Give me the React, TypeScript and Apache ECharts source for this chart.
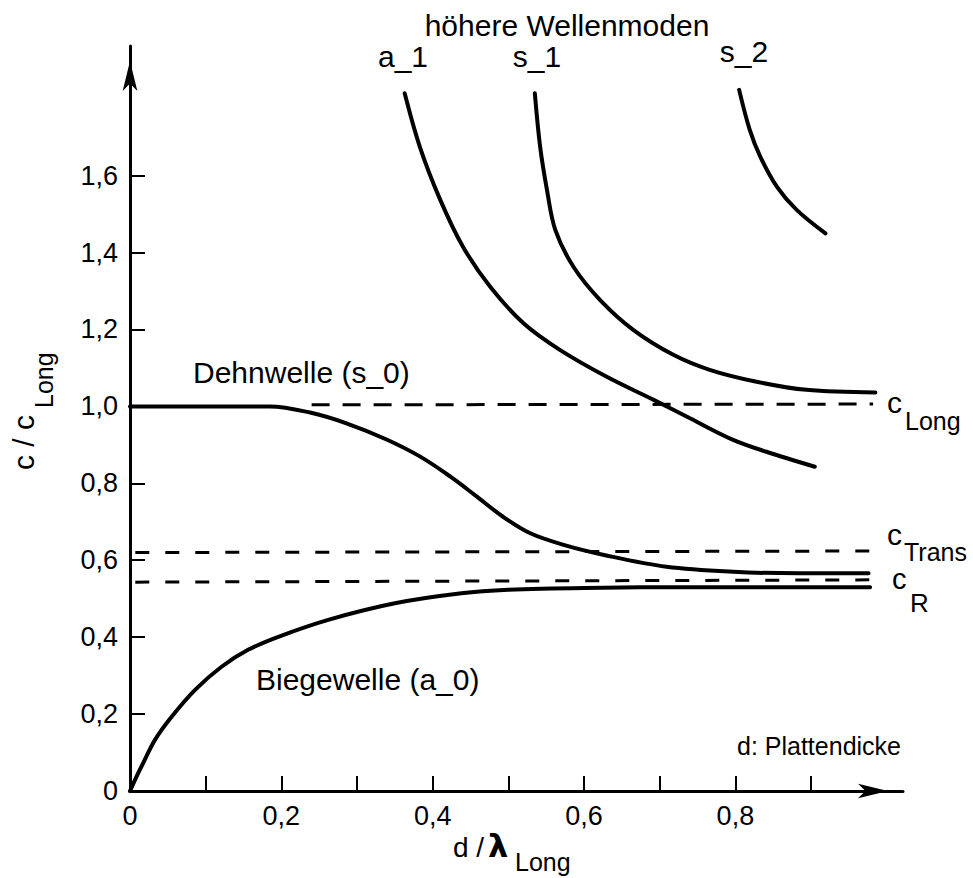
import React, { useEffect, useRef } from "react";
import * as echarts from "echarts";

// ---- data (x = d/λLong, y = c/cLong) ----
const xTickValues = [0.1, 0.2, 0.3, 0.4, 0.5, 0.6, 0.7, 0.8, 0.9];
const xLabelValues = [0, 0.2, 0.4, 0.6, 0.8];
const yTickValues = [0.2, 0.4, 0.6, 0.8, 1.0, 1.2, 1.4, 1.6];
const yLabelValues = [0, 0.2, 0.4, 0.6, 0.8, 1.0, 1.2, 1.4, 1.6];

const dehnwelleS0 = [
  [0, 1.0], [0.1, 1.0], [0.185, 1.0], [0.238, 0.984], [0.286, 0.956],
  [0.339, 0.914], [0.383, 0.87], [0.423, 0.818], [0.458, 0.766],
  [0.493, 0.713], [0.529, 0.67], [0.573, 0.64], [0.628, 0.613],
  [0.709, 0.583], [0.797, 0.57], [0.885, 0.566], [0.976, 0.566],
];
const biegewelleA0 = [
  [0, 0], [0.008, 0.035], [0.018, 0.075], [0.033, 0.133], [0.055, 0.193],
  [0.086, 0.263], [0.121, 0.323], [0.156, 0.367], [0.196, 0.401],
  [0.262, 0.445], [0.35, 0.488], [0.438, 0.514], [0.5, 0.523],
  [0.6, 0.528], [0.75, 0.53], [0.978, 0.53],
];
const modeA1 = [
  [0.363, 1.814], [0.383, 1.675], [0.41, 1.537], [0.44, 1.415],
  [0.476, 1.311], [0.52, 1.216], [0.568, 1.147], [0.63, 1.077],
  [0.692, 1.017], [0.74, 0.969], [0.797, 0.913], [0.841, 0.882],
  [0.905, 0.843],
];
const modeS1 = [
  [0.535, 1.814], [0.542, 1.675], [0.551, 1.563], [0.562, 1.459],
  [0.586, 1.363], [0.621, 1.277], [0.665, 1.199], [0.718, 1.134],
  [0.766, 1.095], [0.828, 1.064], [0.894, 1.043], [0.985, 1.036],
];
const modeS2 = [
  [0.805, 1.823], [0.819, 1.719], [0.833, 1.649], [0.855, 1.571],
  [0.881, 1.511], [0.919, 1.45],
];
const cLongLine = [[0.24, 1.004], [0.982, 1.006]];
const cTransLine = [[0.007, 0.62], [0.982, 0.624]];
const cRLine = [[0.007, 0.543], [0.985, 0.549]];

const FONT = "'Liberation Sans', Arial, Helvetica, sans-serif";

const fmt = (v: number) => (v === 0 ? "0" : v.toFixed(1).replace(".", ","));

function txt(
  text: string,
  x: number,
  y: number,
  size: number,
  align: string = "left",
  extra: any = {}
) {
  return {
    type: "text",
    x,
    y,
    rotation: extra.rotation || 0,
    silent: true,
    style: {
      text,
      fontSize: size,
      fontFamily: extra.fontFamily || FONT,
      fontWeight: extra.fontWeight || "normal",
      fill: "#000",
      align,
      textAlign: align,
      verticalAlign: "middle",
      textVerticalAlign: "middle",
    },
  };
}

export default function App() {
  const ref = useRef<HTMLDivElement>(null);

  useEffect(() => {
    if (!ref.current) return;
    const chart = echarts.init(ref.current, undefined, { renderer: "svg" });

    const solid = (name: string, data: number[][]) => ({
      name,
      type: "line",
      data,
      smooth: 0.35,
      symbol: "none",
      silent: true,
      lineStyle: { color: "#000", width: 4, cap: "round" },
    });
    const dashed = (name: string, data: number[][], dash: number[]) => ({
      name,
      type: "line",
      data,
      symbol: "none",
      silent: true,
      lineStyle: { color: "#000", width: 3, type: dash },
    });

    chart.setOption({
      animation: false,
      backgroundColor: "#fff",
      grid: { left: 130, right: 70, top: 46, bottom: 87, containLabel: false },
      xAxis: {
        type: "value",
        min: 0,
        max: 1.0215,
        axisLine: {
          show: true,
          onZero: true,
          lineStyle: { color: "#000", width: 3 },
          symbol: ["none", "arrow"],
          symbolSize: [11, 30],
          symbolOffset: [0, -15],
        },
        axisTick: {
          show: true,
          inside: true,
          length: 15,
          lineStyle: { color: "#000", width: 2 },
          customValues: xTickValues,
        },
        axisLabel: {
          customValues: xLabelValues,
          formatter: (v: number) => fmt(v),
          fontSize: 27,
          fontFamily: FONT,
          color: "#000",
          margin: 11,
        },
        splitLine: { show: false },
      },
      yAxis: {
        type: "value",
        min: 0,
        max: 1.937,
        axisLine: {
          show: true,
          onZero: true,
          lineStyle: { color: "#000", width: 3 },
          symbol: ["none", "arrow"],
          symbolSize: [11, 30],
          symbolOffset: [0, -15],
        },
        axisTick: {
          show: true,
          inside: true,
          length: 15,
          lineStyle: { color: "#000", width: 2 },
          customValues: yTickValues,
        },
        axisLabel: {
          customValues: yLabelValues,
          formatter: (v: number) => fmt(v),
          fontSize: 27,
          fontFamily: FONT,
          color: "#000",
          margin: 12,
        },
        splitLine: { show: false },
      },
      series: [
        dashed("cLong", cLongLine, [18, 13]),
        dashed("cTrans", cTransLine, [14, 16]),
        dashed("cR", cRLine, [14, 16]),
        solid("Dehnwelle (s_0)", dehnwelleS0),
        solid("Biegewelle (a_0)", biegewelleA0),
        solid("a_1", modeA1),
        solid("s_1", modeS1),
        solid("s_2", modeS2),
      ],
      graphic: [
        txt("höhere Wellenmoden", 567, 25, 30, "center"),
        txt("a_1", 403, 56, 30, "center"),
        txt("s_1", 537, 56, 30, "center"),
        txt("s_2", 744, 51, 30, "center"),
        txt("Dehnwelle (s_0)", 193, 372, 30, "left"),
        txt("Biegewelle (a_0)", 256, 679, 30, "left"),
        txt("c", 887, 402, 30, "left"),
        txt("Long", 905, 421, 25, "left"),
        txt("c", 887, 534, 30, "left"),
        txt("Trans", 904, 552, 25, "left"),
        txt("c", 892, 579, 29, "left"),
        txt("R", 910, 603, 26, "left"),
        txt("d: Plattendicke", 819, 746, 25, "center"),
        // x axis title
        txt("d /", 453, 847, 28, "left"),
        txt("λ", 488, 846, 32, "left", { fontWeight: "bold", fontFamily: "'DejaVu Sans', sans-serif" }),
        txt("Long", 515, 862, 25, "left"),
        // y axis title (rotated)
        txt("c / c", 23, 470, 30, "left", { rotation: Math.PI / 2 }),
        txt("Long", 44, 408, 25, "left", { rotation: Math.PI / 2 }),
      ],
    });

    return () => chart.dispose();
  }, []);

  return (
    <div
      ref={ref}
      style={{ position: "absolute", left: 0, top: 0, width: 973, height: 878 }}
    />
  );
}
